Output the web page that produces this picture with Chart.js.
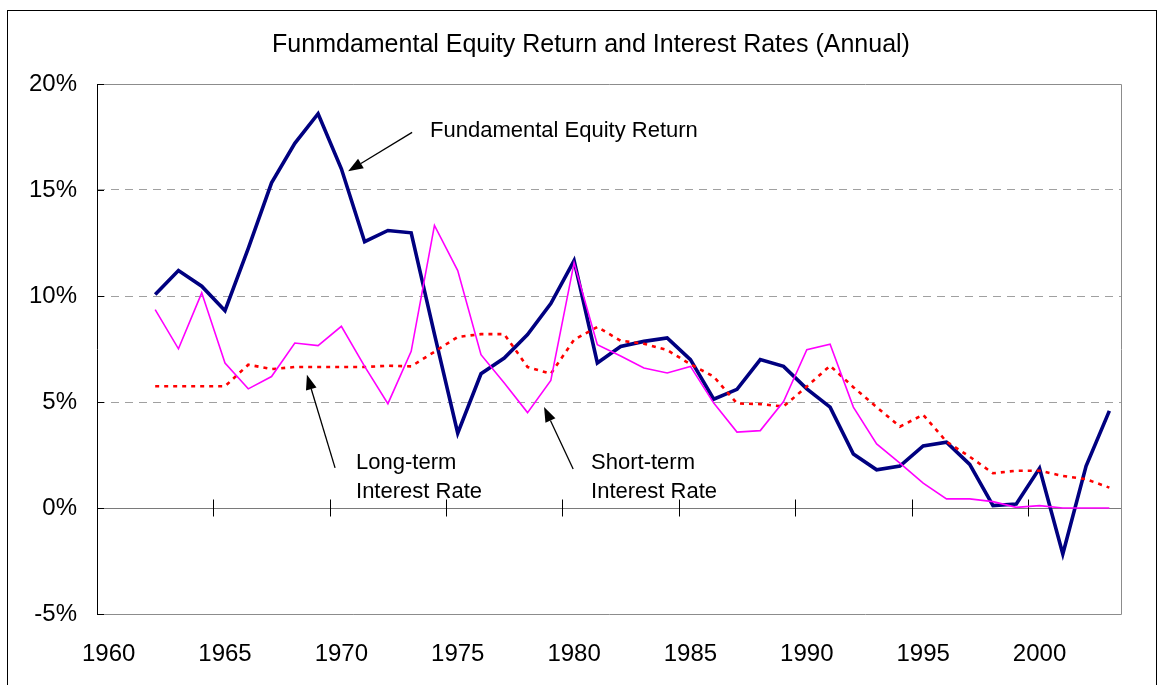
<!DOCTYPE html>
<html>
<head>
<meta charset="utf-8">
<script src="https://cdn.jsdelivr.net/npm/chart.js@4"></script>
<style>
  html, body { margin: 0; padding: 0; background: #fff; }
  #wrap { width: 1162px; height: 685px; }
</style>
</head>
<body>
<div id="wrap"><canvas id="chart" width="1162" height="685"></canvas></div>
<script>
// ==============================
// DATA (percent, annual)
// ==============================
const YEARS = [
  "1960","1961","1962","1963","1964","1965","1966","1967","1968","1969",
  "1970","1971","1972","1973","1974","1975","1976","1977","1978","1979",
  "1980","1981","1982","1983","1984","1985","1986","1987","1988","1989",
  "1990","1991","1992","1993","1994","1995","1996","1997","1998","1999",
  "2000","2001","2002","2003"
];

const EQUITY_RETURN = [
  null, null,
  10.07, 11.2, 10.46, 9.31, 12.25, 15.34, 17.2, 18.6,
  16.0, 12.56, 13.09, 12.98, 8.2, 3.53, 6.33, 7.07, 8.18, 9.64,
  11.67, 6.84, 7.62, 7.86, 8.02, 7.0, 5.13, 5.6, 7.0, 6.68,
  5.62, 4.76, 2.55, 1.8, 1.98, 2.93, 3.1, 2.06, 0.11, 0.19,
  1.87, -2.17, 1.98, 4.58
];

const SHORT_RATE = [
  null, null,
  9.36, 7.51, 10.15, 6.84, 5.62, 6.2, 7.78, 7.66,
  8.57, 6.68, 4.92, 7.39, 13.33, 11.2, 7.23, 5.9, 4.5, 6.02,
  11.56, 7.7, 7.17, 6.6, 6.37, 6.68, 4.95, 3.58, 3.65, 5.02,
  7.47, 7.73, 4.76, 3.02, 2.12, 1.17, 0.43, 0.43, 0.3, 0.03,
  0.11, 0.0, 0.0, 0.0
];

const LONG_RATE = [
  null, null,
  5.74, 5.74, 5.74, 5.74, 6.76, 6.55, 6.65, 6.65,
  6.65, 6.65, 6.71, 6.68, 7.37, 8.07, 8.2, 8.2, 6.65, 6.33,
  7.94, 8.54, 7.89, 7.75, 7.45, 6.78, 6.2, 4.93, 4.9, 4.79,
  5.73, 6.71, 5.7, 4.76, 3.84, 4.4, 3.13, 2.42, 1.64, 1.76,
  1.76, 1.51, 1.36, 0.96
];

const Y_MIN = -5;
const Y_MAX = 20;
const Y_STEP = 5;

const TITLE = "Funmdamental Equity Return and Interest Rates (Annual)";

// annotation texts, placed in (category index, percent) space
const NOTES = [
  { lines: ["Fundamental Equity Return"], x: 13.81, y: 17.8 },
  { lines: ["Long-term", "Interest Rate"], x: 10.63, y: 2.13 },
  { lines: ["Short-term", "Interest Rate"], x: 20.73, y: 2.13 }
];
const ARROWS = [
  { from: [13.04, 17.72], to: [10.29, 15.88] },
  { from: [9.73, 1.89], to: [8.52, 6.29] },
  { from: [19.96, 1.84], to: [18.71, 4.77] }
];

const FONT = "'Liberation Sans', Arial, sans-serif";

// ==============================
// PLUGIN: frame, axis at 0, tick marks, title, notes
// ==============================
const frame = {
  id: "frame",
  beforeDatasetsDraw(chart){
    const { ctx, chartArea: a, scales: { x, y } } = chart;
    ctx.save();
    ctx.lineWidth = 1;

    // plot area border (grey), left axis darker
    ctx.strokeStyle = "#8c8c8c";
    ctx.beginPath();
    ctx.moveTo(a.left, a.top + 0.5); ctx.lineTo(a.right + 0.5, a.top + 0.5);
    ctx.lineTo(a.right + 0.5, a.bottom + 0.5); ctx.lineTo(a.left, a.bottom + 0.5);
    ctx.stroke();

    const y0 = Math.round(y.getPixelForValue(0)) + 0.5;
    ctx.strokeStyle = "#7a7a7a";
    ctx.beginPath();
    ctx.moveTo(a.left, y0); ctx.lineTo(a.right, y0);
    ctx.stroke();

    ctx.strokeStyle = "#000";
    ctx.beginPath();
    ctx.moveTo(a.left + 0.5, a.top); ctx.lineTo(a.left + 0.5, a.bottom + 1);
    ctx.stroke();

    // inward y ticks
    for (let v = Y_MIN; v <= Y_MAX; v += Y_STEP) {
      const py = Math.round(y.getPixelForValue(v)) + 0.5;
      ctx.beginPath();
      ctx.moveTo(a.left, py); ctx.lineTo(a.left + 7, py);
      ctx.stroke();
    }

    // x ticks crossing the 0% line, between categories every 5 years
    YEARS.forEach((yr, i) => {
      if (i === 0 || Number(yr) % 5 !== 0) return;
      const px = Math.round(x.getPixelForValue(i - 0.5)) + 0.5;
      ctx.beginPath();
      ctx.moveTo(px, y0 - 9); ctx.lineTo(px, y0 + 8);
      ctx.stroke();
    });
    ctx.restore();
  },
  afterDraw(chart){
    const { ctx, scales: { x, y } } = chart;
    ctx.save();

    // outer chart border
    ctx.strokeStyle = "#000";
    ctx.lineWidth = 1;
    ctx.strokeRect(7.5, 10.5, 1149, 700);

    // title
    ctx.fillStyle = "#000";
    ctx.font = "25px " + FONT;
    ctx.textAlign = "center";
    ctx.textBaseline = "middle";
    ctx.fillText(TITLE, 591, 45);

    // notes
    ctx.font = "22px " + FONT;
    ctx.textAlign = "left";
    NOTES.forEach(n => {
      const px = x.getPixelForValue(n.x);
      const py = y.getPixelForValue(n.y);
      n.lines.forEach((t, k) => ctx.fillText(t, px, py + k * 29));
    });

    // arrows
    ARROWS.forEach(ar => {
      const x1 = x.getPixelForValue(ar.from[0]), y1 = y.getPixelForValue(ar.from[1]);
      const x2 = x.getPixelForValue(ar.to[0]), y2 = y.getPixelForValue(ar.to[1]);
      const ang = Math.atan2(y2 - y1, x2 - x1);
      const len = 15, half = 5.5;
      const bx = x2 - len * Math.cos(ang), by = y2 - len * Math.sin(ang);
      ctx.strokeStyle = "#000";
      ctx.lineWidth = 1.3;
      ctx.beginPath();
      ctx.moveTo(x1, y1); ctx.lineTo(bx, by);
      ctx.stroke();
      ctx.beginPath();
      ctx.moveTo(x2, y2);
      ctx.lineTo(bx + half * Math.sin(ang), by - half * Math.cos(ang));
      ctx.lineTo(bx - half * Math.sin(ang), by + half * Math.cos(ang));
      ctx.closePath();
      ctx.fill();
    });
    ctx.restore();
  }
};

// ==============================
// CHART
// ==============================
Chart.defaults.font.family = FONT;
Chart.defaults.color = "#000";

new Chart(document.getElementById("chart"), {
  type: "line",
  data: {
    labels: YEARS,
    datasets: [
      { label: "Short-term Interest Rate", data: SHORT_RATE, borderColor: "#ff00ff", borderWidth: 1.6, order: 1 },
      { label: "Long-term Interest Rate", data: LONG_RATE, borderColor: "#ff0000", borderWidth: 2.6, borderDash: [4, 5], order: 2 },
      { label: "Fundamental Equity Return", data: EQUITY_RETURN, borderColor: "#000080", borderWidth: 3.6, order: 3 }
    ]
  },
  options: {
    responsive: false,
    animation: false,
    events: [],
    elements: { point: { radius: 0 }, line: { tension: 0, borderCapStyle: "butt", borderJoinStyle: "miter" } },
    layout: { padding: { left: 0, right: 41, top: 84, bottom: 0 } },
    plugins: {
      legend: { display: false },
      tooltip: { enabled: false },
      title: { display: false }
    },
    scales: {
      x: {
        type: "category",
        offset: true,
        grid: { display: false },
        border: { display: false },
        ticks: {
          autoSkip: false,
          maxRotation: 0,
          padding: 18,
          font: { size: 24 },
          callback: (v, i) => Number(YEARS[i]) % 5 === 0 ? YEARS[i] : ""
        },
        afterFit: s => { s.height = 71; }
      },
      y: {
        min: Y_MIN,
        max: Y_MAX,
        border: { display: false, dash: [8, 6] },
        grid: {
          drawTicks: false,
          color: c => (c.tick && c.tick.value > 0 && c.tick.value < Y_MAX) ? "#a0a0a0" : "rgba(0,0,0,0)"
        },
        ticks: {
          stepSize: Y_STEP,
          padding: 20,
          font: { size: 24 },
          callback: v => v + "%"
        },
        afterFit: s => { s.width = 97; }
      }
    }
  },
  plugins: [frame]
});
</script>
</body>
</html>
